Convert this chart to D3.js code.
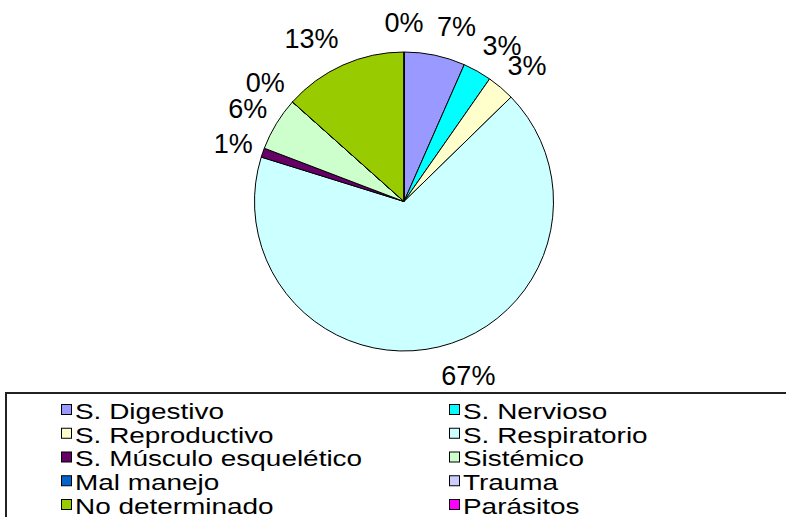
<!DOCTYPE html>
<html lang="es">
<head>
  <meta charset="utf-8">
  <title>Causas</title>
  <script src="https://d3js.org/d3.v7.min.js" charset="utf-8"></script>
  <style>
    body { margin: 0; background: #fff; }
    text { font-family: "Liberation Sans", Arial, sans-serif; fill: #000; }
  </style>
</head>
<body>
  <div class="chart"></div>

  <script type="text/javascript">
    var categories = ["S. Digestivo", "S. Nervioso", "S. Reproductivo", "S. Respiratorio",
      "S. Músculo esquelético", "Sistémico", "Mal manejo", "Trauma", "No determinado", "Parásitos"];
    var values = [6.6, 3.1, 3.0, 67.1, 1.0, 5.8, 0, 0, 13.4, 0];
    var colors = ["#9999FF", "#00FFFF", "#FFFFCC", "#CCFFFF", "#660066",
      "#CCFFCC", "#0066CC", "#CCCCFF", "#99CC00", "#FF00FF"];

    var w = 786, h = 517;
    var cx = 404, cy = 201.5, radius = 149.5;
    var labelRx = 160, labelRy = 179;

    var svg = d3.select(".chart").append("svg")
      .attr("width", w)
      .attr("height", h);

    var data = categories.map(function(c, i){ return {name: c, value: values[i], color: colors[i]}; });
    var total = d3.sum(values);

    var pie = d3.pie().sort(null).value(function(d){ return d.value; });
    var arc = d3.arc().innerRadius(0).outerRadius(radius);

    var g = svg.append("g").attr("transform", "translate(" + cx + "," + cy + ")");

    var arcs = pie(data);

    g.selectAll("path.slice")
      .data(arcs)
      .enter().append("path")
      .attr("class", "slice")
      .attr("d", arc)
      .style("fill", function(d){ return d.data.color; })
      .style("stroke", "#000")
      .style("stroke-width", 1);

    // excel style labels: text edge hangs off the mid angle, outside the pie
    function mid(d){ return (d.startAngle + d.endAngle) / 2; }

    // two empty slices at the same angle print on top of each other, keep one
    var seen = {};
    var labelled = arcs.filter(function(d){
      var k = mid(d).toFixed(4);
      if (seen[k]) return false;
      seen[k] = true;
      return true;
    });

    g.selectAll("text.pct")
      .data(labelled)
      .enter().append("text")
      .attr("class", "pct")
      .attr("x", function(d){ return labelRx * Math.sin(mid(d)); })
      .attr("y", function(d){ return -labelRy * Math.cos(mid(d)); })
      .attr("text-anchor", function(d){
        var s = Math.sin(mid(d));
        return s > 0.05 ? "start" : (s < -0.05 ? "end" : "middle");
      })
      .attr("dy", "0.36em")
      .style("font-size", "27px")
      .text(function(d){ return Math.round(d.data.value / total * 100) + "%"; });

    // legend
    var lg = svg.append("g");
    lg.append("rect")
      .attr("x", 6)
      .attr("y", 393)
      .attr("width", 800)
      .attr("height", 200)
      .style("fill", "#fff")
      .style("stroke", "#222")
      .style("stroke-width", 2);

    var row = d3.scaleLinear().domain([0, 4]).range([410, 505]);
    var col = d3.scaleOrdinal().domain([0, 1]).range([61, 449]);

    var items = lg.selectAll("g.item")
      .data(d3.range(categories.length))
      .enter().append("g")
      .attr("class", "item")
      .attr("transform", function(i){
        return "translate(" + col(i % 2) + "," + row(Math.floor(i / 2)) + ")";
      });

    items.append("rect")
      .attr("x", 0.5)
      .attr("y", -5.5)
      .attr("width", 10)
      .attr("height", 10)
      .style("fill", function(i){ return colors[i]; })
      .style("stroke", "#000")
      .style("stroke-width", 1);

    items.append("text")
      .attr("transform", "translate(14,1) scale(1.27,1)")
      .attr("dy", "0.36em")
      .style("font-size", "22px")
      .text(function(i){ return categories[i]; });
  </script>
</body>
</html>
